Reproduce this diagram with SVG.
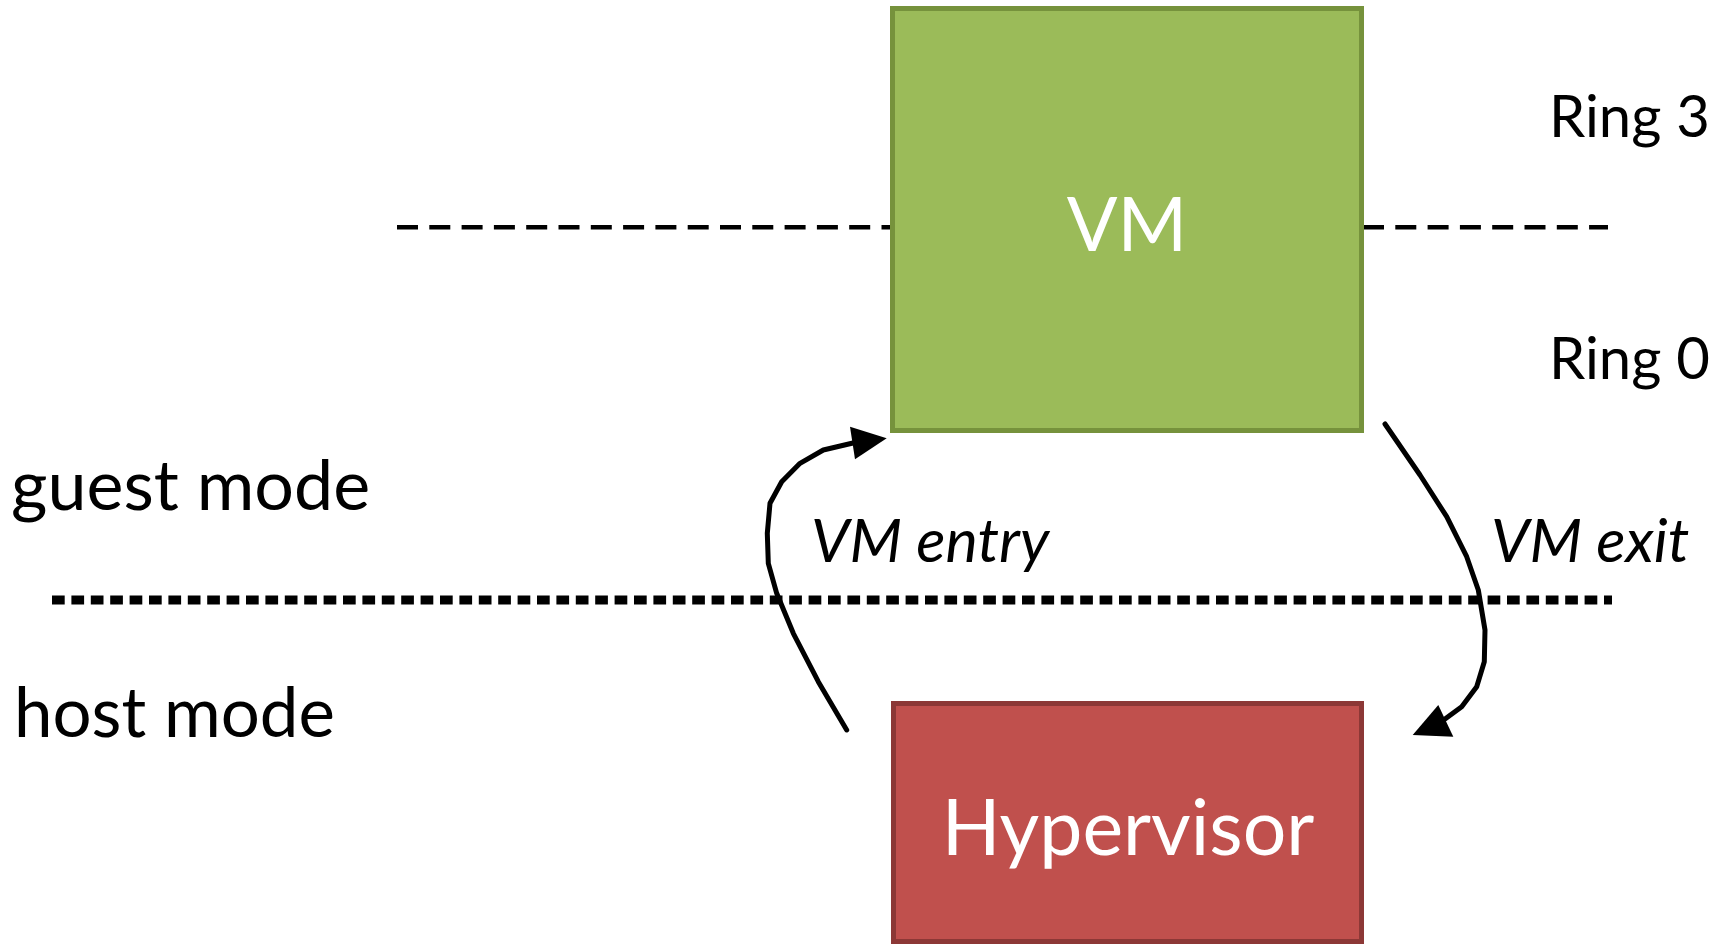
<svg xmlns="http://www.w3.org/2000/svg" width="1725" height="947" viewBox="0 0 1725 947">
<style>
.lbl{font-family:Lato,"Liberation Sans",sans-serif;fill:#000}
.it{font-family:Lato,"Liberation Sans",sans-serif;font-style:italic;fill:#000}
.wt{font-family:Lato,"Liberation Sans",sans-serif;fill:#fff}
.conn{fill:none;stroke:#000;stroke-width:5;stroke-linejoin:round;stroke-linecap:round}
.head{fill:#000}
.ring{stroke:#000;stroke-width:4.5;stroke-dasharray:21 11.3}
</style>
<rect width="1725" height="947" fill="#fff"/>
<g id="separators">
<line class="ring" x1="397" y1="227.3" x2="891" y2="227.3"/>
<line class="ring" x1="1363" y1="227.3" x2="1608" y2="227.3"/>
<line x1="52" y1="600" x2="1612" y2="600" stroke="#000" stroke-width="9" stroke-dasharray="12.7 6.7"/>
</g>
<g id="vm">
<rect x="892.5" y="8.5" width="469" height="422" fill="#9BBB59" stroke="#76923C" stroke-width="5"/>
<text class="wt" x="1127" y="251" font-size="75" text-anchor="middle">VM</text>
</g>
<g id="hypervisor">
<rect x="893.5" y="703.5" width="468" height="238" fill="#C0504D" stroke="#8C3836" stroke-width="5"/>
<text class="wt" x="1128" y="855" font-size="77" text-anchor="middle">Hypervisor</text>
</g>
<g id="labels">
<text class="lbl" x="1549" y="137" font-size="58">Ring 3</text>
<text class="lbl" x="1549" y="379" font-size="58">Ring 0</text>
<text class="lbl" x="11" y="510" font-size="70">guest mode</text>
<text class="lbl" x="14" y="737" font-size="69">host mode</text>
</g>
<g id="connectors">
<polyline class="conn" points="846.7,730 818.3,681.7 793.3,633.3 776.7,593.3 768.3,563.3 767.3,533.3 770,503.3 781.7,481.7 800,463.3 823.3,450 853,443"/>
<polygon class="head" points="886.7,438.3 850,426.7 855,459.3"/>
<text class="it" x="811" y="562" font-size="61">VM entry</text>
<polyline class="conn" points="1385,424 1420,475 1446.7,516.7 1466.7,556.7 1478.3,590 1485,630 1484.3,661.7 1476.7,686.7 1461.7,706.7 1445,719"/>
<polygon class="head" points="1412.7,735 1438.3,705 1453.3,736.7"/>
<text class="it" x="1491" y="562" font-size="61">VM exit</text>
</g>
</svg>
